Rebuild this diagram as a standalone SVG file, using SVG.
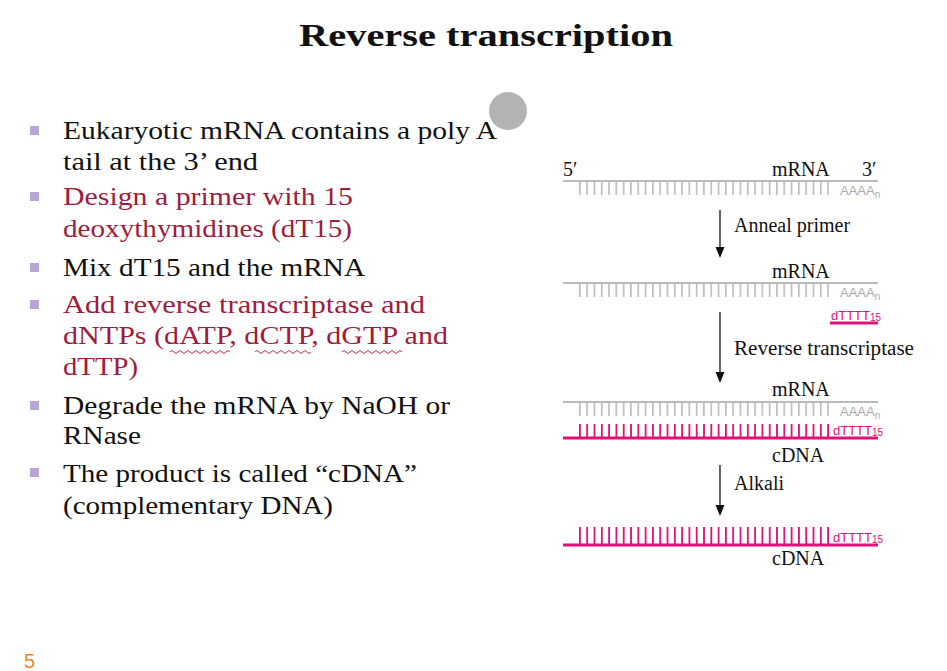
<svg xmlns="http://www.w3.org/2000/svg" width="947" height="671" viewBox="0 0 947 671">
<defs>
<style>
.t{font-family:"Liberation Serif",serif;font-size:25px;fill:#111}
.r{fill:#a01c3c}
.s{font-family:"Liberation Serif",serif;font-size:20px;fill:#111}
.sm{font-family:"Liberation Sans Narrow","Liberation Sans",sans-serif;font-size:13px}
.g{stroke:#bbb;stroke-width:2}
</style>
<pattern id="tg" width="7.3" height="20" patternUnits="userSpaceOnUse" x="579"><rect x="0" y="0" width="1.6" height="20" fill="#bbb"/></pattern>
<pattern id="tp" width="7.3" height="20" patternUnits="userSpaceOnUse" x="579"><rect x="0" y="0" width="1.8" height="20" fill="#e0117a"/></pattern>
</defs>
<rect width="947" height="671" fill="#fff"/>
<text x="299" y="46" textLength="374" lengthAdjust="spacingAndGlyphs" font-family="Liberation Serif,serif" font-weight="bold" font-size="32" fill="#111">Reverse transcription</text>
<circle cx="508" cy="111" r="19" fill="#b3b3b3"/>
<g id="bullets" fill="#b9a6d6">
<rect x="30" y="126" width="9" height="9"/><rect x="30" y="192" width="9" height="9"/><rect x="30" y="263" width="9" height="9"/><rect x="30" y="300" width="9" height="9"/><rect x="30" y="401" width="9" height="9"/><rect x="30" y="468" width="9" height="9"/>
</g>
<g id="text" >
<text class="t" x="63" y="139" textLength="434" lengthAdjust="spacingAndGlyphs">Eukaryotic mRNA contains a poly A</text>
<text class="t" x="63" y="170" textLength="195" lengthAdjust="spacingAndGlyphs">tail at the 3’ end</text>
<text class="t r" x="63" y="205" textLength="290" lengthAdjust="spacingAndGlyphs">Design a primer with 15</text>
<text class="t r" x="63" y="237" textLength="289" lengthAdjust="spacingAndGlyphs">deoxythymidines (dT15)</text>
<text class="t" x="63" y="276" textLength="302" lengthAdjust="spacingAndGlyphs">Mix dT15 and the mRNA</text>
<text class="t r" x="63" y="313" textLength="362" lengthAdjust="spacingAndGlyphs">Add reverse transcriptase and</text>
<text class="t r" x="63" y="344" textLength="385" lengthAdjust="spacingAndGlyphs">dNTPs (dATP, dCTP, dGTP and</text>
<text class="t r" x="63" y="375" textLength="75" lengthAdjust="spacingAndGlyphs">dTTP)</text>
<text class="t" x="63" y="414" textLength="387" lengthAdjust="spacingAndGlyphs">Degrade the mRNA by NaOH or</text>
<text class="t" x="63" y="444" textLength="78" lengthAdjust="spacingAndGlyphs">RNase</text>
<text class="t" x="63" y="482" textLength="354" lengthAdjust="spacingAndGlyphs">The product is called “cDNA”</text>
<text class="t" x="63" y="514" textLength="270" lengthAdjust="spacingAndGlyphs">(complementary DNA)</text>
<path d="M170 352 q2 -3 4 0 t4 0 t4 0 t4 0 t4 0 t4 0 t4 0 t4 0 t4 0 t4 0 t4 0 t4 0 t4 0 t4 0 t4 0 M255 352 q2 -3 4 0 t4 0 t4 0 t4 0 t4 0 t4 0 t4 0 t4 0 t4 0 t4 0 t4 0 t4 0 t4 0 t4 0 M342 352 q2 -3 4 0 t4 0 t4 0 t4 0 t4 0 t4 0 t4 0 t4 0 t4 0 t4 0 t4 0 t4 0 t4 0 t4 0 t4 0" fill="none" stroke="#c0304a" stroke-width="1"/>
</g>
<g id="strands">
<text class="s" x="563" y="176" font-size="16">5′</text>
<text class="s" x="772" y="176">mRNA</text>
<text class="s" x="862" y="176" font-size="17">3′</text>
<line class="g" x1="563" y1="181" x2="878" y2="181"/>
<rect x="579" y="182" width="252" height="13" fill="url(#tg)"/>
<text class="sm" x="840" y="195" fill="#aaa">AAAA<tspan font-size="10" dy="3">n</tspan></text>

<text class="s" x="772" y="278">mRNA</text>
<line class="g" x1="563" y1="283" x2="878" y2="283"/>
<rect x="579" y="284" width="252" height="13" fill="url(#tg)"/>
<text class="sm" x="840" y="297" fill="#aaa">AAAA<tspan font-size="10" dy="3">n</tspan></text>
<text class="sm" x="831" y="320" fill="#e0117a">dTTTT<tspan font-size="10" dy="1">15</tspan></text>
<line x1="830" y1="323" x2="878" y2="323" stroke="#e0117a" stroke-width="3"/>

<text class="s" x="772" y="396">mRNA</text>
<line class="g" x1="563" y1="402" x2="878" y2="402"/>
<rect x="579" y="403" width="252" height="13" fill="url(#tg)"/>
<text class="sm" x="840" y="416" fill="#aaa">AAAA<tspan font-size="10" dy="3">n</tspan></text>
<rect x="579" y="424" width="252" height="14" fill="url(#tp)"/>
<line x1="563" y1="438" x2="878" y2="438" stroke="#e0117a" stroke-width="3"/>
<text class="sm" x="833" y="435" fill="#e0117a">dTTTT<tspan font-size="10" dy="1">15</tspan></text>
<text class="s" x="772" y="462">cDNA</text>

<rect x="579" y="527" width="252" height="18" fill="url(#tp)"/>
<line x1="563" y1="545" x2="878" y2="545" stroke="#e0117a" stroke-width="3"/>
<text class="sm" x="833" y="542" fill="#e0117a">dTTTT<tspan font-size="10" dy="1">15</tspan></text>
<text class="s" x="772" y="565">cDNA</text>
</g>
<g id="connectors" stroke="#111" stroke-width="1.3" fill="#111">
<line x1="720" y1="210" x2="720" y2="248"/><path d="M715.5 247L724.5 247L720 258Z" stroke="none"/>
<line x1="720" y1="312" x2="720" y2="373"/><path d="M715.5 372L724.5 372L720 383Z" stroke="none"/>
<line x1="720" y1="465" x2="720" y2="506"/><path d="M715.5 505L724.5 505L720 516Z" stroke="none"/>
</g>
<g id="labels">
<text class="s" x="734" y="232">Anneal primer</text>
<text class="s" x="734" y="355" textLength="180" lengthAdjust="spacingAndGlyphs">Reverse transcriptase</text>
<text class="s" x="734" y="490">Alkali</text>
</g>
<text x="24" y="668" font-family="Liberation Sans,sans-serif" font-size="20" fill="#e8892c">5</text>
</svg>
